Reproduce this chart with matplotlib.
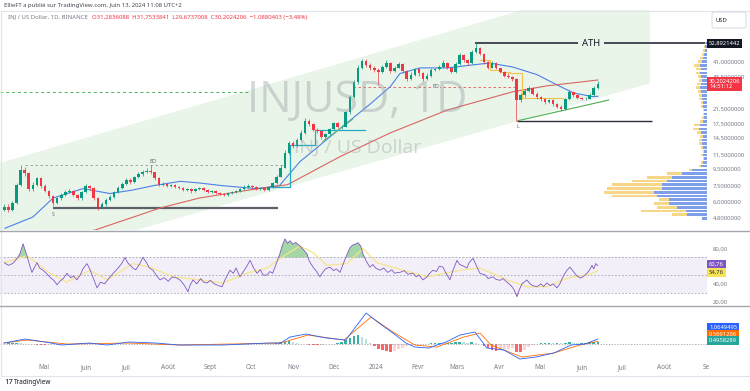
import datetime as dt
import numpy as np
import matplotlib
matplotlib.use("Agg")
import matplotlib.pyplot as plt
from matplotlib.patches import Polygon, FancyBboxPatch, Rectangle
from matplotlib.lines import Line2D
from matplotlib.ticker import NullLocator, NullFormatter

plt.rcParams['font.family'] = ['Noto Sans', 'DejaVu Sans']

# ---------------- data (3-day candles, day offsets from 2023-04-01) ----------------
first_open = 5.4
closes = [5.6, 5.4, 5.9, 7.6, 9.3, 8.9, 7.2, 7.6, 8.3, 7.5,
          7.0, 6.5, 5.9, 6.3, 6.6, 6.9, 7.0, 6.6, 6.3, 6.9,
          7.5, 7.3, 6.3, 5.6, 5.8, 6.2, 6.4, 6.9, 7.3, 7.7,
          8.1, 7.9, 8.4, 8.8, 9.0, 9.2, 9.0, 8.3, 7.6, 7.7,
          7.5, 7.6, 7.4, 7.3, 7.1, 7.2, 7.0, 7.2, 7.3, 7.1,
          6.9, 7.0, 6.8, 6.7, 6.6, 6.8, 6.9, 7.0, 7.2, 7.4,
          7.5, 7.4, 7.2, 7.3, 7.1, 7.4, 7.8, 8.5, 9.6, 11.8,
          13.4, 13.0, 14.1, 15.5, 18.2, 17.5, 16.1, 15.8, 14.6, 15.2,
          16.3, 17.7, 16.8, 16.9, 20.5, 25.5, 31.0, 38.0, 41.5, 39.5,
          38.0, 36.5, 35.6, 38.5, 40.5, 36.0, 38.0, 40.0, 36.0, 32.5,
          34.5, 37.0, 35.0, 32.5, 34.0, 36.5, 37.0, 38.5, 40.5, 38.0,
          35.6, 40.0, 45.0, 42.0, 40.5, 47.0, 50.0, 46.0, 41.0, 38.0,
          40.5, 37.5, 35.6, 34.0, 33.5, 32.5, 24.4, 26.0, 27.5, 28.7,
          26.5, 25.3, 24.5, 23.5, 24.2, 23.0, 22.2, 21.5, 24.5, 27.2,
          26.0, 25.0, 24.6, 24.8, 26.1, 28.5, 30.2]
highs = [5.8, 5.8, 6.1, 7.8, 9.9, 9.7, 9.0, 7.9, 8.5, 8.4,
         7.7, 7.1, 6.6, 6.4, 6.8, 7.1, 7.2, 7.1, 6.7, 7.0,
         7.7, 7.6, 7.4, 6.4, 6.0, 6.3, 6.6, 7.0, 7.5, 7.9,
         8.3, 8.3, 8.6, 9.0, 9.3, 9.5, 9.9, 9.1, 8.4, 7.9,
         7.8, 7.7, 7.7, 7.5, 7.4, 7.3, 7.3, 7.3, 7.4, 7.4,
         7.2, 7.1, 7.1, 6.9, 6.8, 6.9, 7.0, 7.1, 7.3, 7.6,
         7.7, 7.6, 7.5, 7.4, 7.4, 7.5, 7.9, 8.7, 9.9, 12.2,
         13.9, 13.8, 14.5, 16.0, 19.0, 18.7, 17.8, 16.5, 16.0, 15.5,
         16.6, 18.0, 18.0, 17.3, 21.0, 26.2, 32.0, 39.5, 43.0, 42.5,
         40.5, 39.0, 37.5, 39.5, 42.0, 41.0, 39.0, 41.0, 40.5, 36.5,
         35.5, 38.0, 37.5, 35.5, 35.0, 37.5, 38.0, 39.5, 42.0, 41.0,
         38.5, 41.0, 46.5, 45.5, 43.0, 48.0, 52.89, 50.5, 46.5, 41.5,
         41.5, 41.0, 38.0, 36.0, 35.0, 34.0, 33.0, 26.8, 28.3, 29.5,
         29.0, 27.0, 25.8, 25.0, 24.8, 24.5, 23.4, 22.6, 25.0, 27.8,
         27.6, 26.4, 25.4, 25.3, 26.8, 29.5, 31.75]
lows = [5.3, 5.2, 5.3, 5.8, 7.5, 8.6, 7.0, 7.0, 7.5, 7.3,
        6.9, 6.3, 5.7, 5.8, 6.2, 6.5, 6.8, 6.5, 6.2, 6.2,
        6.8, 7.1, 6.2, 5.4, 5.5, 5.7, 6.1, 6.3, 6.8, 7.2,
        7.6, 7.7, 7.8, 8.3, 8.6, 8.9, 8.8, 8.1, 7.5, 7.5,
        7.4, 7.4, 7.3, 7.2, 7.0, 7.0, 6.8, 6.9, 7.1, 7.0,
        6.8, 6.8, 6.7, 6.6, 6.5, 6.5, 6.7, 6.8, 6.9, 7.1,
        7.3, 7.3, 7.1, 7.1, 7.0, 7.0, 7.3, 7.7, 8.4, 9.5,
        11.6, 12.6, 12.8, 13.9, 15.3, 17.0, 15.8, 15.4, 14.2, 14.3,
        15.0, 16.1, 16.5, 16.4, 16.7, 20.2, 25.0, 30.5, 37.0, 38.5,
        36.5, 35.5, 30.0, 35.0, 38.0, 35.2, 35.5, 37.5, 35.0, 31.5,
        32.0, 34.0, 34.0, 31.5, 32.0, 33.5, 36.0, 36.5, 38.0, 37.0,
        35.0, 35.2, 39.5, 41.0, 39.5, 40.0, 46.5, 45.0, 40.0, 37.0,
        37.5, 37.0, 35.0, 33.5, 33.0, 31.5, 18.2, 23.5, 25.5, 27.0,
        26.0, 24.8, 24.0, 23.0, 23.2, 22.5, 21.7, 21.0, 21.3, 24.2,
        25.5, 24.6, 24.2, 24.3, 24.6, 25.8, 28.2]
candle_step = 3
first_day = 1

# moving averages (day offset, price)
ma_fast_days = [1.5, 22, 37, 59, 79, 96, 111, 131, 145, 162, 187, 204, 219, 236, 254, 271,
                286, 293, 308, 328, 347, 359, 376, 394, 409, 421, 435, 439]
ma_fast_vals = [4.18, 4.87, 6.33, 7.2, 6.73, 7.07, 7.5, 7.96, 7.78, 7.5, 7.2, 7.5, 10.4, 13.5,
                17.8, 23.0, 29.3, 35.0, 37.8, 37.8, 39.4, 40.4, 38.3, 34.5, 29.9, 26.8, 25.5, 25.6]
ma_slow_days = [40, 68, 116, 145, 182, 210, 249, 286, 328, 376, 401, 439]
ma_slow_vals = [3.7, 4.08, 5.52, 6.33, 7.07, 7.6, 11.2, 15.5, 21.2, 27.2, 29.5, 32.0]

# RSI
rsi_days = [1, 4, 7, 10, 12.5, 14.8, 17.7, 19.5, 21.4, 23, 25.1, 27, 29.5, 32, 35, 37.5, 39.9, 42,
            44.5, 47.2, 50, 52, 54.6, 57, 59, 62, 64, 66, 69.4, 72, 75, 79, 82, 85, 88, 90, 92,
            95.9, 98, 101, 103.3, 106, 108, 110.7, 113, 115.9, 119, 122, 125, 128.4, 131, 134,
            136.5, 138, 140.2, 143, 146, 148, 150.6, 153, 156, 159, 161.6, 164, 167.5, 170, 172,
            174.9, 177, 180, 182.3, 185, 187.5, 190, 192, 194.8, 197, 199, 201, 204.4, 206,
            208.1, 210, 211.8, 214, 216, 219.2, 221, 224.4, 226, 228.8, 231, 233.9, 236, 238,
            241.3, 244, 246, 248.7, 251, 253, 256.1, 258, 260, 262, 264, 265.7, 268, 270.8, 273,
            275, 278.2, 281, 284, 287, 289, 291.5, 293, 296, 299, 302.6, 305, 307, 310, 313, 315,
            317.3, 320, 322, 324.7, 327, 329.9, 332, 335.1, 337, 340, 342.4, 344, 346.9, 349, 352,
            356, 358, 361.6, 364, 367, 369, 372, 375, 377, 379.3, 381, 383, 386.7, 389, 391,
            394.1, 397, 399, 401.5, 404, 406, 408.9, 411, 413.3, 416, 418.5, 421, 423, 425.9,
            428, 431, 433, 434.7, 436, 437.5, 439]
rsi_vals = [64, 61, 63, 68, 74, 85.5, 72, 62, 53, 58, 64, 58, 55.5, 52, 47, 44, 39, 43,
            46, 52, 47, 49, 44.5, 50, 57, 63, 57, 49, 35.5, 42, 40, 48, 53, 58, 64, 70, 64,
            58, 56, 63, 70, 64, 58, 55.5, 50, 44.5, 47, 43, 48, 46.5, 44, 38,
            31, 38, 44.5, 40, 46, 42, 41, 44, 40, 38, 36.7, 45, 55.5, 52, 58,
            48, 53, 60, 66.7, 58, 52, 56, 50, 50, 54, 52, 60, 74.4, 83,
            91, 86, 89, 85, 87, 83, 80, 74, 66, 59, 55, 48, 53, 57,
            59, 55, 57, 53, 62, 70, 81, 84, 85, 86.7, 83, 74, 66, 59, 62,
            58, 55.5, 58, 53, 56, 52, 53, 53, 55, 51, 52, 48, 50, 44.5, 48, 52,
            55.5, 54, 60, 59, 52, 44.5, 55, 66.7, 62, 60, 58, 64, 69, 62, 52,
            50, 46, 48, 45, 44, 46, 42, 38, 34, 25.5, 33, 40, 44.5, 40, 38,
            36.7, 40, 37, 41, 38, 40, 35.5, 40, 48, 55, 59, 54, 50, 46.5,
            48, 52, 56, 61, 57, 63, 60.76]
rsi_ma_days = [1, 17.7, 34.7, 47.2, 64.2, 76.8, 95.9, 108.5, 125.5, 145.4, 162.4, 180, 194.8,
               209.6, 219.2, 228.8, 239.1, 253.9, 265.7, 276, 293, 312.9, 337.3, 352, 372,
               386.7, 401.5, 416.2, 431, 439]
rsi_ma_vals = [64, 72, 52, 42, 55.5, 44.5, 63, 59, 48, 44.5, 41, 52, 58, 74, 83, 75.5, 61, 63,
               80, 64, 56.5, 48, 55.5, 58, 44.5, 36.7, 36.7, 46.5, 50, 54.76]

# MACD
macd_days = [0.7, 16.2, 31, 43.5, 63.5, 76.8, 93, 113, 130, 162.4, 195.6, 205, 211.8, 223.6,
             238.4, 253, 261.3, 268, 277.5, 287.8, 297.4, 304, 314.4, 320.3, 327, 337.3, 348.3,
             357.2, 369.7, 381.5, 393.4, 406.6, 419.2, 429.5, 439]
macd_vals = [0.21, 1.06, 0.43, -0.21, 0.21, -0.21, 0.43, 0.21, -0.21, -0.21, 0.21, 0.21, 1.49,
             2.13, 1.28, 0.85, 4.04, 6.6, 4.47, 2.34, 0.21, -0.64, -0.85, -0.21, 0.43, 1.91,
             2.55, -0.85, -1.28, -3.19, -2.77, -1.91, -0.21, 0.0, 1.06]
signal_days = [0.7, 17.7, 47.2, 93, 130, 205, 225, 251.7, 271.6, 287.8, 304, 320.3, 340.2, 352,
               360.2, 383, 406.6, 425.8, 439]
signal_vals = [0.21, 0.85, 0.0, 0.21, -0.21, 0.21, 1.91, 0.85, 5.74, 2.55, -0.21, -0.64, 1.49,
               2.34, -0.21, -2.77, -1.91, -0.21, 0.57]
hist_vals = [0.1, 0.2, 0.3, 0.3, 0.2, 0.1, 0, -0.1, -0.2, -0.2,
             -0.2, -0.1, -0.1, 0, 0.1, 0.1, 0.1, 0, 0, 0.1,
             0.1, 0, -0.1, -0.1, -0.1, 0, 0.1, 0.1, 0.1, 0.1,
             0.1, 0.1, 0, 0, 0, -0.1, -0.1, -0.1, -0.1, 0,
             0, 0, 0, 0, 0, 0, 0, 0, 0, 0,
             0, 0, 0, 0, 0, 0, 0, 0, 0, 0.1,
             0.1, 0, 0, 0, 0, 0, 0.1, 0.2, 0.4, 0.5,
             0.6, 0.5, 0.3, 0.1, 0, -0.2, -0.3, -0.3, -0.2, -0.1,
             0, 0.1, 0.2, 0.4, 0.8, 1.3, 1.8, 1.9, 1.6, 1.0,
             0.2, -0.5, -1.0, -1.3, -1.5, -1.6, -1.4, -1.1, -0.8, -0.5,
             -0.3, -0.2, -0.1, 0.1, 0.1, 0.2, 0.3, 0.3, 0.2, 0.2,
             0.3, 0.4, 0.5, 0.4, 0.3, 0.4, 0.3, 0, -0.4, -0.9,
             -1.2, -1.4, -1.3, -1.1, -1.0, -0.9, -1.6, -1.8, -1.2, -0.6,
             -0.2, 0.1, 0.2, 0.2, 0.3, 0.2, 0.3, 0.2, 0.3, 0.5,
             0.3, 0.2, 0.2, 0.3, 0.4, 0.5, 0.5]

# volume profile (48 price bins from 4.7 to 55)
vp_low, vp_high = 4.7, 55.0
vp_up = [5, 20, 21, 30, 38, 38, 50, 53, 45, 45, 40, 35, 25, 15, 6, 4, 3, 4, 3, 4,
         5, 5, 4, 6, 8, 7, 4, 3, 3, 3, 4, 4, 5, 5, 6, 7, 6, 5, 6, 7,
         6, 7, 5, 4, 3, 2, 2, 1]
vp_down = [0, 15, 45, 20, 15, 10, 45, 50, 55, 50, 35, 25, 15, 3, 2, 2, 1, 2, 1, 2,
           3, 3, 3, 4, 6, 6, 3, 2, 1, 1, 2, 2, 3, 3, 3, 4, 4, 3, 3, 4,
           5, 6, 4, 3, 2, 2, 1, 1]

# drawings (day offset, price)
channel_days = [-2.2, 477.5, 477.5, -2.2]
channel_prices = [10.24, 140.0, 30.6, 2.39]
ath_price = 52.8921442
ath_start, ath_gap0, ath_gap1 = 348.3, 424.4, 443.6
low_price, low_start, low_end = 18.2, 379.3, 479.0
support_price, support_start, support_end = 5.52, 37, 203
bo1_price, bo1_start, bo1_end = 9.96, 16, 207
bo2_price, bo2_start, bo2_end = 29.1, 258, 379
green_dash_price, green_dash_end = 27.2, 182
step_days = [197, 212, 212, 230, 230, 267]
step_prices = [7.36, 7.36, 13.1, 13.1, 16.1, 16.1]
yellow_days = [352, 359.4, 359.4, 366.8, 366.8, 374.2, 374.2, 383, 383, 413.3]
yellow_prices = [42.1, 42.1, 36.7, 36.7, 35.7, 35.7, 35.2, 35.2, 25.0, 25.0]
trend1_days, trend1_prices = [236, 258], [13.8, 18.6]
trend2_days, trend2_prices = [380, 447], [18.3, 24.3]

price_ticks = [41.0, 33.5, 21.5, 17.5, 14.5, 11.5, 9.5, 7.5, 6.0, 4.8]
month_list = [(2023, 5), (2023, 6), (2023, 7), (2023, 8), (2023, 9), (2023, 10), (2023, 11),
              (2023, 12), (2024, 1), (2024, 2), (2024, 3), (2024, 4), (2024, 5), (2024, 6),
              (2024, 7), (2024, 8), (2024, 9)]
month_labels = ["Mai", "Juin", "Juil", "Août", "Sept", "Oct", "Nov", "Déc", "2024", "Févr",
                "Mars", "Avr", "Mai", "Juin", "Juil", "Août", "Se"]

# ---------------- figure ----------------
W, H = 750, 391
fig = plt.figure(figsize=(7.5, 3.91), dpi=100)
fig.patch.set_facecolor('white')


def fx(px):
    return px / W


def fy(py):
    return 1 - py / H


ax = fig.add_axes([0, fy(230), fx(707), (230 - 10) / H])
ax_rsi = fig.add_axes([0, fy(305), fx(707), (305 - 231) / H], sharex=ax)
ax_macd = fig.add_axes([0, fy(360), fx(707), (360 - 306) / H], sharex=ax)

for a in (ax, ax_rsi, ax_macd):
    for s in a.spines.values():
        s.set_visible(False)
    a.set_facecolor('none')

GRAY = '#787b86'
UP, DOWN = '#089981', '#f23645'

# ---- main pane ----
ax.set_yscale('log')
ax.set_xlim(-2.2, 519.6)
ax.set_ylim(4.08, 83.7)

ax.add_patch(Polygon(list(zip(channel_days, channel_prices)), closed=True,
                     fc='#4caf50', alpha=0.12, ec='none', zorder=0))

fig.text(fx(357), fy(101), "INJUSD, 1D", fontsize=31, color='#9598a1', alpha=0.38,
         ha='center', va='center', family=['Open Sans', 'DejaVu Sans'], zorder=0.5)
fig.text(fx(358), fy(148), "INJ / US Dollar", fontsize=14, color='#9598a1', alpha=0.38,
         ha='center', va='center', family=['Open Sans', 'DejaVu Sans'], zorder=0.5)

days = first_day + candle_step * np.arange(len(closes))
c = np.array(closes)
o = np.r_[first_open, c[:-1]]
hi = np.maximum(np.array(highs), np.maximum(o, c))
lo = np.minimum(np.array(lows), np.minimum(o, c))
cols = np.where(c >= o, UP, DOWN)
ax.vlines(days, lo, hi, colors=cols, lw=0.5, zorder=3)
ax.bar(days, np.maximum(np.abs(c - o), 0.002 * c), bottom=np.minimum(o, c), width=1.9,
       color=cols, zorder=3.1, linewidth=0)

ax.plot(ma_fast_days, ma_fast_vals, color='#4f7fe6', lw=0.8, zorder=2.5)
ax.plot(ma_slow_days, ma_slow_vals, color='#d9655f', lw=0.8, zorder=2.5)

dash = (0, (3, 3))
ax.hlines(green_dash_price, -2.2, green_dash_end, colors='#4caf50', lw=0.7, linestyles=dash, zorder=2)
ax.hlines(bo1_price, bo1_start, bo1_end, colors='#9598a1', lw=0.6, linestyles=dash, zorder=2)
ax.hlines(bo2_price, bo2_start, bo2_end, colors='#ef5350', lw=0.6, linestyles=dash, zorder=2)
ax.hlines(support_price, support_start, support_end, colors='#5d606b', lw=1.6, zorder=2)
ax.hlines(low_price, low_start, low_end, colors='#2a2e39', lw=1.0, zorder=2)
ax.hlines(ath_price, ath_start, ath_gap0, colors='#2a2e39', lw=1.2, zorder=2)
ax.hlines(ath_price, ath_gap1, 519.6, colors='#2a2e39', lw=1.2, zorder=2)
ax.text((ath_gap0 + ath_gap1) / 2, ath_price, "ATH", fontsize=6.8, fontweight='bold',
        color='#131722', ha='center', va='center', zorder=4)
ax.plot(step_days, step_prices, color='#22abc5', lw=0.9, zorder=2.6)
ax.plot(yellow_days, yellow_prices, color='#f0c24b', lw=0.8, zorder=2.6)
ax.plot(trend1_days, trend1_prices, color='#66bb6a', lw=0.7, zorder=2.6)
ax.plot(trend2_days, trend2_prices, color='#4caf50', lw=0.8, zorder=2.6)
ax.text(37, 5.08, "S", fontsize=3.5, color='#5d606b', ha='center', va='center')
ax.text(110.7, bo1_price * 1.01, "BO", fontsize=3.5, color='#5d606b', ha='center', va='bottom')
ax.text(319.5, bo2_price, "BO", fontsize=3.5, color='#5d606b', ha='center', va='center',
        bbox=dict(boxstyle='square,pad=0.1', fc='#eaf4ea', ec='none'), zorder=4)
ax.text(380, 17.0, "L", fontsize=3.5, color='#5d606b', ha='center', va='center')

# volume profile on a twin axis (right anchored)
ax_vp = ax.twiny()
ax_vp.set_xlim(707, 0)
edges = np.geomspace(vp_low, vp_high, len(vp_up) + 1)
hts = np.diff(edges) * 0.7
ax_vp.barh(edges[:-1], vp_up, height=hts, align='edge', color='#6a8ee8', alpha=0.85, lw=0)
ax_vp.barh(edges[:-1], vp_down, left=vp_up, height=hts, align='edge', color='#f5d27a',
           alpha=0.9, lw=0)
ax_vp.axis('off')

ax.yaxis.tick_right()
ax.yaxis.set_minor_locator(NullLocator())
ax.yaxis.set_minor_formatter(NullFormatter())
ax.set_yticks(price_ticks)
ax.set_yticklabels([f"{v:.7f}".replace('.', ',') for v in price_ticks])
ax.tick_params(axis='y', length=0, pad=4, labelsize=4.3, labelcolor=GRAY)
ax.tick_params(axis='x', which='both', length=0, labelbottom=False)

# ---- RSI pane ----
ax_rsi.set_ylim(16, 100)
ax_rsi.axhspan(30, 70, color='#7e57c2', alpha=0.09, lw=0)
for lvl in (70, 50, 30):
    ax_rsi.axhline(lvl, color='#9598a1', lw=0.5, ls=(0, (2.5, 2.5)))
rv = np.array(rsi_vals)
ax_rsi.fill_between(rsi_days, 70, rv, where=rv >= 70, interpolate=True, color='#4caf50',
                    alpha=0.5, lw=0)
ax_rsi.fill_between(rsi_days, 30, rv, where=rv <= 30, interpolate=True, color='#ef5350',
                    alpha=0.4, lw=0)
ax_rsi.plot(rsi_ma_days, rsi_ma_vals, color='#f5e58c', lw=0.9)
ax_rsi.plot(rsi_days, rsi_vals, color='#7e57c2', lw=0.6)
ax_rsi.yaxis.tick_right()
ax_rsi.set_yticks([20, 40, 80])
ax_rsi.set_yticklabels(["20,00", "40,00", "80,00"])
ax_rsi.tick_params(axis='y', length=0, pad=4, labelsize=4.3, labelcolor=GRAY)
ax_rsi.tick_params(axis='x', which='both', length=0, labelbottom=False)

# ---- MACD pane ----
ax_macd.set_ylim(-3.4, 8.09)
ax_macd.axhline(0, color='#9598a1', lw=0.5, ls=(0, (2, 2)))
hv = np.array(hist_vals)
prev = np.r_[0, hv[:-1]]
hcols = np.where(hv >= 0, np.where(hv >= prev, '#26a69a', '#b2dfdb'),
                 np.where(hv <= prev, '#ff5252', '#ffcdd2'))
ax_macd.bar(days, hv, width=1.9, color=hcols, lw=0, alpha=0.9)
ax_macd.plot(signal_days, signal_vals, color='#ff6d00', lw=0.6)
ax_macd.plot(macd_days, macd_vals, color='#2962ff', lw=0.6)
ax_macd.set_yticks([])
base = dt.date(2023, 4, 1)
ax_macd.set_xticks([(dt.date(y, m, 1) - base).days for y, m in month_list])
ax_macd.set_xticklabels(month_labels)
ax_macd.tick_params(axis='x', length=0, pad=3, labelsize=4.6, labelcolor=GRAY)

# ---- separators & frame ----
for yy in (230.5, 305.5):
    fig.add_artist(Line2D([0, 1], [fy(yy)] * 2, color='#a3a6af', lw=1.0,
                          transform=fig.transFigure))
fig.add_artist(Rectangle((fx(0.5), fy(375.5)), fx(749), (375.5 - 11) / H, fill=False,
                         ec='#e0e3eb', lw=0.8, transform=fig.transFigure))


# ---- tags on the price scale ----
def tag(py, text, bg, fg='white'):
    fig.text(fx(709), fy(py), text, fontsize=4.2, color=fg, ha='left', va='center',
             bbox=dict(boxstyle='square,pad=0.3', fc=bg, ec='none'))


tag(43.5, "52,8921442", '#131722')
tag(84, "30,2024206\n14:51:12", '#f23645')
tag(264, "60,76", '#7e57c2')
tag(272.5, "54,76", '#f7e35a', '#333333')
tag(327.5, "1,0649495", '#2962ff')
tag(334, "0,5691206", '#ff6d00')
tag(340.5, "0,4958289", '#26a69a')

# USD box
fig.add_artist(FancyBboxPatch((fx(712), fy(28)), fx(34), 16 / H,
                              boxstyle='round,pad=0,rounding_size=0.004', fc='white',
                              ec='#d1d4dc', lw=0.6, transform=fig.transFigure))
fig.text(fx(715), fy(20), "USD", fontsize=4.2, color='#131722', ha='left', va='center')

# ---- header ----
fig.text(fx(4), fy(6), "EllieFT a publié sur TradingView.com, Juin 13, 2024 11:08 UTC+2",
         fontsize=4.3, color='#434651', ha='left', va='center')
t1 = fig.text(fx(8), fy(17), "INJ / US Dollar, 1D, BINANCE", fontsize=4.3, color=GRAY,
              ha='left', va='center')
ax.annotate("O31,2836088  H31,7533841  L29,6737008  C30,2024206  −1,0880403 (−3,48%)",
            xy=(1, 0.5), xycoords=t1, xytext=(3, 0), textcoords='offset points',
            fontsize=4.3, color='#f23645', ha='left', va='center', annotation_clip=False)

# ---- footer ----
fig.text(fx(4), fy(383), "17", fontsize=5.5, fontweight='bold', color='#131722',
         ha='left', va='center')
fig.text(fx(14), fy(383), "TradingView", fontsize=4.6, color='#131722', ha='left', va='center')

fig.savefig("out.png", dpi=100, facecolor='white')
